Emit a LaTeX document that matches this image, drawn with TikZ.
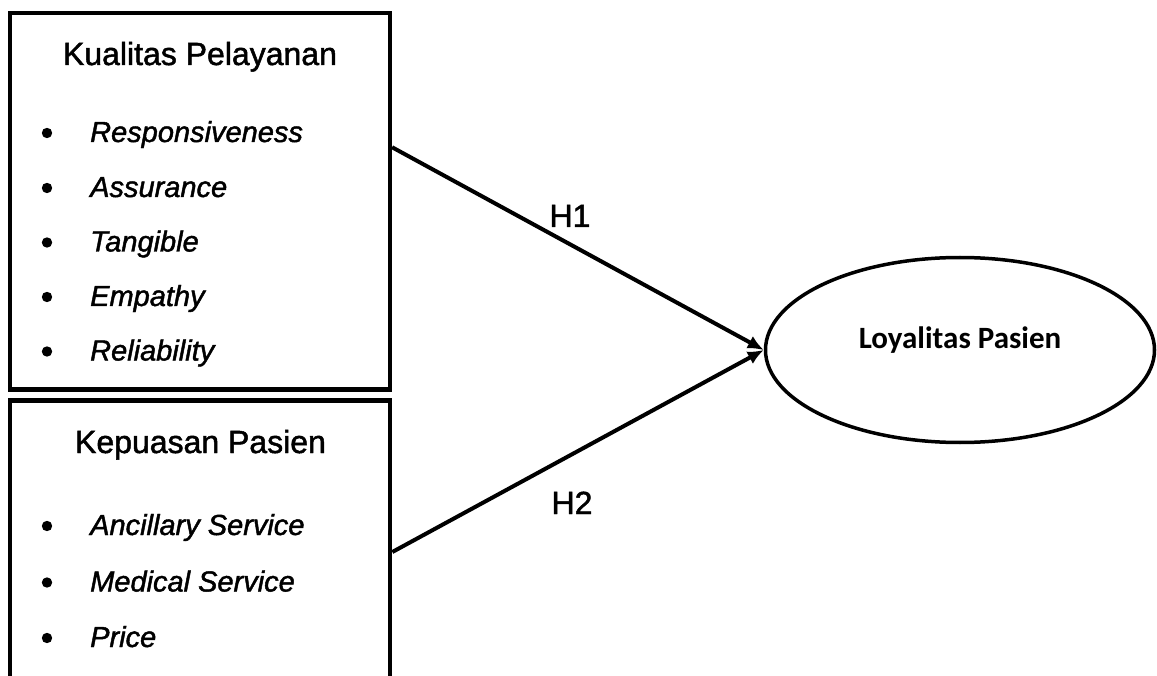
\documentclass[tikz,border=0pt]{standalone}
\usepackage{fontspec}
\setmainfont{Liberation Sans}[FakeBold=1.5]
\newfontfamily\calibri{Carlito}
\usetikzlibrary{shapes.geometric,arrows.meta}
\tikzset{
  varbox/.style={draw,line width=4.2pt,inner sep=0pt,minimum width=380pt},
  boxtitle/.style={anchor=base,inner sep=0pt,font=\fontsize{32}{38}\selectfont},
  itemtext/.style={anchor=base west,inner sep=0pt,font=\fontsize{29}{34}\selectfont\itshape},
  hyplabel/.style={anchor=base,inner sep=0pt,font=\fontsize{32}{38}\selectfont},
  bulletdot/.style={fill=black},
  link/.style={line width=4pt,-{Latex[length=16pt,width=14pt]}},
  latent/.style={draw,ellipse,line width=3.5pt,inner sep=0pt,minimum width=389pt,minimum height=185pt,
    font=\calibri\bfseries\fontsize{31}{37}\selectfont,text height=20pt,text depth=23pt}
}
\begin{document}
\begin{tikzpicture}[x=1pt,y=-1pt]
\useasboundingbox (0,0) rectangle (1157,676);
\fill[white] (0,0) rectangle (1157,676);
\clip (0,0) rectangle (1157,676);
% boxes
\node[varbox,minimum height=376.5pt] (kp) at (200,201.25) {};
\node[varbox,minimum height=303pt] (ks) at (200.25,552) {};
% titles
\node[boxtitle] (kpt) at (200,65) {Kualitas Pelayanan};
\node[boxtitle] (kst) at (200.5,453) {Kepuasan Pasien};
% items box 1
\node[itemtext] (i1) at (90,142) {Responsiveness};
\node[itemtext] (i2) at (90,197) {Assurance};
\node[itemtext] (i3) at (90,251.5) {Tangible};
\node[itemtext] (i4) at (90,306) {Empathy};
\node[itemtext] (i5) at (90,360.5) {Reliability};
\foreach \yy in {142,197,251.5,306,360.5} \fill[bulletdot] (47,\yy-9) circle[radius=5.2pt];
% items box 2
\node[itemtext] (j1) at (90,535) {Ancillary Service};
\node[itemtext] (j2) at (90,591.5) {Medical Service};
\node[itemtext] (j3) at (90,647) {Price};
\foreach \yy in {535,591.5,647} \fill[bulletdot] (47,\yy-9) circle[radius=5.2pt];
% ellipse
\node[latent] (lp) at (960,350) {Loyalitas Pasien};
% connectors
\draw[link] ([yshift=54pt]kp.east) -- (lp.west);
\draw[link] (ks.east) -- (lp.west);
\node[hyplabel] (h1) at (570,227) {H1};
\node[hyplabel] (h2) at (572,514) {H2};
\end{tikzpicture}
\end{document}
